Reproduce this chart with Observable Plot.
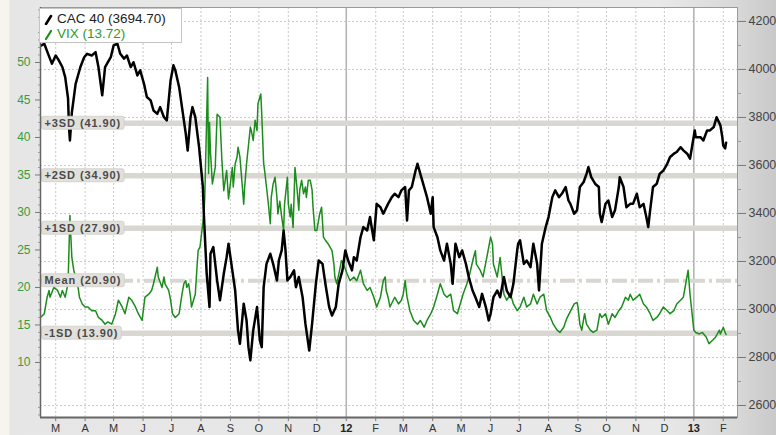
<!DOCTYPE html>
<html><head><meta charset="utf-8">
<script src="https://cdn.jsdelivr.net/npm/d3@7"></script>
<script src="https://cdn.jsdelivr.net/npm/@observablehq/plot@0.6"></script>
<style>
body{margin:0;background:#e8e8e8;font-family:"Liberation Sans",Arial,sans-serif;}
#wrap{position:relative;width:776px;height:435px;overflow:hidden;
 background:linear-gradient(90deg,#f7f4f0 0,#f7f4f0 9px,#e6e6e6 10px,#e9e9e9 85%,#d8d8d8 95%,#c9c9c9 100%);}
#legend{position:absolute;left:39px;top:8px;width:143px;height:35px;background:#fff;border:1px solid #c4c4c4;box-sizing:border-box;font-size:13.5px;line-height:15px;padding:2px 0 0 4px;white-space:nowrap}
#legend .row{display:flex;align-items:center;height:15px}
#legend svg{margin-right:3px}
</style></head>
<body>
<div id="wrap"><div id="chart"></div>
<div id="legend">
 <div class="row" style="color:#222"><svg width="10" height="12"><line x1="2" y1="11" x2="7" y2="3" stroke="#000" stroke-width="2.6" stroke-linecap="round"/></svg>CAC 40 (3694.70)</div>
 <div class="row" style="color:#2e9a2e"><svg width="10" height="12"><line x1="2" y1="11" x2="7" y2="3" stroke="#1c8c1c" stroke-width="2.2" stroke-linecap="round"/></svg>VIX (13.72)</div>
</div>
</div>
<script>
const cacSeries = [["2011-02-14",4100],["2011-02-17",4107],["2011-02-21",4065],["2011-02-25",4024],["2011-03-01",4058],["2011-03-04",4040],["2011-03-08",4010],["2011-03-11",3968],["2011-03-14",3880],["2011-03-15",3760],["2011-03-16",3704],["2011-03-18",3820],["2011-03-22",3940],["2011-03-27",4010],["2011-03-31",4051],["2011-04-03",4065],["2011-04-08",4058],["2011-04-12",4072],["2011-04-15",4010],["2011-04-19",3892],["2011-04-22",4010],["2011-04-28",4051],["2011-05-01",4100],["2011-05-05",4107],["2011-05-08",4065],["2011-05-12",4045],["2011-05-15",4058],["2011-05-19",4010],["2011-05-22",4030],["2011-05-26",3975],["2011-05-29",3996],["2011-06-02",3940],["2011-06-05",3885],["2011-06-09",3871],["2011-06-12",3829],["2011-06-16",3815],["2011-06-19",3843],["2011-06-23",3801],["2011-06-26",3788],["2011-06-30",3954],["2011-07-03",4017],["2011-07-05",3996],["2011-07-09",3926],["2011-07-12",3843],["2011-07-16",3732],["2011-07-18",3662],["2011-07-21",3801],["2011-07-23",3843],["2011-07-26",3801],["2011-07-30",3676],["2011-08-01",3593],["2011-08-03",3510],["2011-08-04",3399],["2011-08-05",3315],["2011-08-06",3232],["2011-08-07",3149],["2011-08-10",3010],["2011-08-11",3232],["2011-08-14",3260],["2011-08-18",3121],["2011-08-21",3038],["2011-08-25",3149],["2011-08-28",3218],["2011-08-30",3274],["2011-09-03",3163],["2011-09-06",3079],["2011-09-09",2913],["2011-09-11",2857],["2011-09-15",3024],["2011-09-18",2954],["2011-09-20",2843],["2011-09-22",2788],["2011-09-25",2913],["2011-09-29",3010],["2011-10-02",2871],["2011-10-04",2843],["2011-10-06",3093],["2011-10-09",3190],["2011-10-13",3232],["2011-10-16",3190],["2011-10-20",3121],["2011-10-22",3204],["2011-10-25",3246],["2011-10-27",3329],["2011-10-29",3246],["2011-10-31",3121],["2011-11-03",3135],["2011-11-07",3163],["2011-11-09",3093],["2011-11-12",3135],["2011-11-16",3051],["2011-11-19",2940],["2011-11-23",2829],["2011-11-26",2940],["2011-11-30",3107],["2011-12-03",3204],["2011-12-07",3190],["2011-12-10",3107],["2011-12-14",3010],["2011-12-17",2975],["2011-12-21",3010],["2011-12-24",3107],["2011-12-28",3163],["2011-12-31",3246],["2012-01-03",3204],["2012-01-07",3163],["2012-01-09",3218],["2012-01-12",3204],["2012-01-16",3301],["2012-01-19",3343],["2012-01-23",3329],["2012-01-26",3385],["2012-01-30",3288],["2012-02-02",3440],["2012-02-06",3426],["2012-02-09",3399],["2012-02-14",3440],["2012-02-18",3468],["2012-02-21",3482],["2012-02-25",3468],["2012-02-28",3496],["2012-03-03",3510],["2012-03-05",3371],["2012-03-07",3496],["2012-03-10",3510],["2012-03-14",3579],["2012-03-16",3607],["2012-03-19",3565],["2012-03-23",3510],["2012-03-26",3468],["2012-03-30",3399],["2012-04-01",3468],["2012-04-02",3343],["2012-04-06",3301],["2012-04-09",3246],["2012-04-13",3204],["2012-04-16",3274],["2012-04-20",3190],["2012-04-22",3107],["2012-04-25",3274],["2012-04-29",3218],["2012-05-02",3246],["2012-05-06",3190],["2012-05-09",3135],["2012-05-13",3079],["2012-05-16",3051],["2012-05-20",3010],["2012-05-23",3065],["2012-05-27",3010],["2012-05-30",2954],["2012-06-01",2982],["2012-06-04",3051],["2012-06-08",3079],["2012-06-11",3051],["2012-06-15",3135],["2012-06-18",3079],["2012-06-22",3051],["2012-06-25",3107],["2012-06-29",3246],["2012-06-30",3274],["2012-07-02",3288],["2012-07-06",3190],["2012-07-09",3204],["2012-07-13",3176],["2012-07-16",3274],["2012-07-20",3190],["2012-07-22",3079],["2012-07-25",3274],["2012-07-29",3343],["2012-08-01",3385],["2012-08-05",3468],["2012-08-08",3496],["2012-08-12",3468],["2012-08-15",3482],["2012-08-19",3510],["2012-08-22",3454],["2012-08-24",3440],["2012-08-28",3399],["2012-08-31",3413],["2012-09-03",3510],["2012-09-07",3531],["2012-09-10",3565],["2012-09-12",3593],["2012-09-15",3551],["2012-09-19",3524],["2012-09-23",3510],["2012-09-24",3399],["2012-09-26",3364],["2012-09-30",3440],["2012-10-03",3454],["2012-10-07",3385],["2012-10-10",3413],["2012-10-14",3510],["2012-10-15",3551],["2012-10-19",3510],["2012-10-22",3426],["2012-10-26",3440],["2012-10-29",3440],["2012-11-02",3482],["2012-11-05",3426],["2012-11-09",3440],["2012-11-12",3385],["2012-11-14",3343],["2012-11-16",3413],["2012-11-19",3510],["2012-11-23",3524],["2012-11-26",3565],["2012-11-30",3579],["2012-12-04",3607],["2012-12-07",3635],["2012-12-11",3649],["2012-12-14",3656],["2012-12-18",3676],["2012-12-21",3663],["2012-12-25",3649],["2012-12-28",3628],["2013-01-02",3746],["2013-01-03",3718],["2013-01-08",3718],["2013-01-11",3704],["2013-01-15",3746],["2013-01-18",3746],["2013-01-22",3760],["2013-01-25",3801],["2013-01-29",3767],["2013-01-31",3718],["2013-02-01",3683],["2013-02-03",3671],["2013-02-04",3695]];

const vixSeries = [["2011-02-13",16.0],["2011-02-17",16.5],["2011-02-20",18.7],["2011-02-22",19.6],["2011-02-23",18.7],["2011-02-27",20.0],["2011-03-03",19.6],["2011-03-06",18.7],["2011-03-08",19.6],["2011-03-11",18.7],["2011-03-14",20.5],["2011-03-16",29.6],["2011-03-17",26.7],["2011-03-18",24.0],["2011-03-20",22.3],["2011-03-24",20.5],["2011-03-26",18.7],["2011-03-29",17.8],["2011-04-01",17.4],["2011-04-04",17.4],["2011-04-08",16.9],["2011-04-12",16.9],["2011-04-15",16.0],["2011-04-19",15.6],["2011-04-22",15.1],["2011-04-25",15.4],["2011-04-29",15.1],["2011-05-03",16.5],["2011-05-06",18.3],["2011-05-10",17.4],["2011-05-13",16.5],["2011-05-17",18.7],["2011-05-20",18.3],["2011-05-24",17.4],["2011-05-27",16.5],["2011-05-31",15.6],["2011-06-03",18.7],["2011-06-07",19.1],["2011-06-10",19.6],["2011-06-12",20.5],["2011-06-16",22.7],["2011-06-17",21.4],["2011-06-21",20.0],["2011-06-23",21.4],["2011-06-24",20.5],["2011-06-28",19.6],["2011-06-30",18.3],["2011-07-02",16.5],["2011-07-05",16.0],["2011-07-09",16.5],["2011-07-12",19.1],["2011-07-14",20.5],["2011-07-16",20.9],["2011-07-17",20.0],["2011-07-19",20.5],["2011-07-21",18.7],["2011-07-22",17.4],["2011-07-26",19.1],["2011-07-28",23.1],["2011-07-29",24.9],["2011-07-31",25.4],["2011-08-02",27.6],["2011-08-04",29.8],["2011-08-05",32.0],["2011-08-08",48.0],["2011-08-09",35.2],["2011-08-10",42.0],["2011-08-11",38.0],["2011-08-13",33.8],["2011-08-16",36.0],["2011-08-18",43.1],["2011-08-21",42.7],["2011-08-23",37.0],["2011-08-25",32.9],["2011-08-28",35.6],["2011-08-30",31.8],["2011-09-03",36.0],["2011-09-04",33.4],["2011-09-06",36.5],["2011-09-08",37.4],["2011-09-09",38.7],["2011-09-11",37.4],["2011-09-13",34.3],["2011-09-15",31.1],["2011-09-16",33.4],["2011-09-18",36.5],["2011-09-22",41.4],["2011-09-23",40.9],["2011-09-25",39.6],["2011-09-27",42.3],["2011-09-29",40.9],["2011-09-30",44.5],["2011-10-03",45.8],["2011-10-04",43.1],["2011-10-06",36.5],["2011-10-07",35.6],["2011-10-09",33.4],["2011-10-11",31.1],["2011-10-13",28.5],["2011-10-14",32.0],["2011-10-16",33.8],["2011-10-18",34.7],["2011-10-20",32.0],["2011-10-21",29.8],["2011-10-23",31.5],["2011-10-25",29.4],["2011-10-27",27.6],["2011-10-28",31.1],["2011-10-31",34.7],["2011-11-01",31.1],["2011-11-03",29.4],["2011-11-04",31.1],["2011-11-06",28.0],["2011-11-08",36.0],["2011-11-10",33.4],["2011-11-12",30.3],["2011-11-13",33.0],["2011-11-15",34.3],["2011-11-17",32.5],["2011-11-19",33.4],["2011-11-20",32.0],["2011-11-22",34.3],["2011-11-24",34.3],["2011-11-26",33.0],["2011-11-27",30.7],["2011-11-29",27.6],["2011-12-01",27.6],["2011-12-04",29.8],["2011-12-06",30.7],["2011-12-08",26.7],["2011-12-10",26.3],["2011-12-13",25.8],["2011-12-17",24.9],["2011-12-19",23.1],["2011-12-20",21.4],["2011-12-22",20.5],["2011-12-25",22.3],["2011-12-27",23.6],["2011-12-29",23.1],["2012-01-02",21.8],["2012-01-05",20.9],["2012-01-09",21.4],["2012-01-12",20.9],["2012-01-16",22.3],["2012-01-19",20.5],["2012-01-23",19.6],["2012-01-26",20.0],["2012-01-30",18.7],["2012-02-02",17.4],["2012-02-06",18.7],["2012-02-09",20.9],["2012-02-11",21.4],["2012-02-12",19.6],["2012-02-14",18.7],["2012-02-16",17.4],["2012-02-21",18.7],["2012-02-25",17.8],["2012-02-28",18.3],["2012-03-01",19.1],["2012-03-03",20.9],["2012-03-05",18.7],["2012-03-08",16.9],["2012-03-12",15.6],["2012-03-16",15.1],["2012-03-19",15.6],["2012-03-23",14.7],["2012-03-26",15.6],["2012-03-30",16.5],["2012-04-02",17.4],["2012-04-06",19.1],["2012-04-09",20.5],["2012-04-13",19.1],["2012-04-16",18.7],["2012-04-20",19.1],["2012-04-23",16.9],["2012-04-27",16.5],["2012-04-30",17.8],["2012-05-03",19.1],["2012-05-07",20.5],["2012-05-10",21.8],["2012-05-14",24.0],["2012-05-16",24.9],["2012-05-17",23.1],["2012-05-21",22.3],["2012-05-24",21.4],["2012-05-28",24.0],["2012-06-01",26.7],["2012-06-03",25.8],["2012-06-04",23.1],["2012-06-08",21.4],["2012-06-11",24.0],["2012-06-15",19.1],["2012-06-18",18.3],["2012-06-22",19.1],["2012-06-25",17.8],["2012-06-29",16.9],["2012-07-02",17.4],["2012-07-06",18.7],["2012-07-09",17.4],["2012-07-13",17.8],["2012-07-16",19.1],["2012-07-20",17.8],["2012-07-23",18.7],["2012-07-27",19.1],["2012-07-30",16.9],["2012-08-03",16.0],["2012-08-06",15.1],["2012-08-10",14.3],["2012-08-13",14.0],["2012-08-17",14.7],["2012-08-20",15.8],["2012-08-24",16.8],["2012-08-28",17.8],["2012-08-31",18.0],["2012-09-01",17.4],["2012-09-03",15.1],["2012-09-05",14.3],["2012-09-08",16.5],["2012-09-10",15.1],["2012-09-14",14.3],["2012-09-17",14.0],["2012-09-21",14.3],["2012-09-24",16.5],["2012-09-26",16.0],["2012-09-30",16.5],["2012-10-03",15.1],["2012-10-07",16.5],["2012-10-10",16.0],["2012-10-14",16.9],["2012-10-17",17.4],["2012-10-21",18.7],["2012-10-24",18.3],["2012-10-26",19.1],["2012-10-29",18.3],["2012-11-02",18.7],["2012-11-05",19.1],["2012-11-09",17.8],["2012-11-12",17.4],["2012-11-16",16.5],["2012-11-19",15.6],["2012-11-23",16.0],["2012-11-26",16.5],["2012-11-30",17.4],["2012-12-04",16.9],["2012-12-07",16.5],["2012-12-11",16.9],["2012-12-14",17.8],["2012-12-18",18.3],["2012-12-21",18.7],["2012-12-26",22.3],["2012-12-28",19.1],["2013-01-01",14.3],["2013-01-03",14.0],["2013-01-07",13.8],["2013-01-10",14.0],["2013-01-14",13.4],["2013-01-17",12.5],["2013-01-21",13.0],["2013-01-24",13.4],["2013-01-28",14.3],["2013-01-29",13.8],["2013-02-01",14.7],["2013-02-03",14.0],["2013-02-04",13.72]];

const sdLevels = [41.90, 34.90, 27.90, 20.90, 13.90];
const sdLabels = ["+3SD (41.90)", "+2SD (34.90)", "+1SD (27.90)", "Mean (20.90)", "-1SD (13.90)"];
const vixTicks = [10, 15, 20, 25, 30, 35, 40, 45, 50];
const cacTicks = [2600, 2800, 3000, 3200, 3400, 3600, 3800, 4000, 4200];
const cacMinorTicks = [2700, 2900, 3100, 3300, 3500, 3700, 3900, 4100];
const monthTicks = ["2011-03-01","2011-04-01","2011-05-01","2011-06-01","2011-07-01","2011-08-01","2011-09-01","2011-10-01","2011-11-01","2011-12-01","2012-01-01","2012-02-01","2012-03-01","2012-04-01","2012-05-01","2012-06-01","2012-07-01","2012-08-01","2012-09-01","2012-10-01","2012-11-01","2012-12-01","2013-01-01","2013-02-01"];
const monthLabels = ["M","A","M","J","J","A","S","O","N","D","12","F","M","A","M","J","J","A","S","O","N","D","13","F"];

const parse = d3.utcParse("%Y-%m-%d");
const cac = cacSeries.map(([d, v]) => ({date: parse(d), value: v}));
const vix = vixSeries.map(([d, v]) => ({date: parse(d), value: v}));
const ticks = monthTicks.map((d, i) => ({date: parse(d), label: monthLabels[i], year: /^\d+$/.test(monthLabels[i])}));
const labelOf = new Map(ticks.map(t => [+t.date, t.label]));
const monthDates = ticks.filter(t => !t.year).map(t => t.date);
const yearDates = ticks.filter(t => t.year).map(t => t.date);

const xDomain = [parse("2011-02-13"), parse("2013-02-16")];
const vixDomain = [2.66, 57.33];
const cacDomain = [2550, 4258];
const toVix = d3.scaleLinear(cacDomain, vixDomain);
const vixMinor = d3.range(3, 58).filter(v => v % 5 !== 0);

const green = "#1c8c1c", greenText = "#3a9b3a", band = "#d9d7d1";
const solidLevels = sdLevels.filter((d, i) => sdLabels[i].indexOf("Mean") !== 0);
const meanLevels = sdLevels.filter((d, i) => sdLabels[i].indexOf("Mean") === 0);

const svg = Plot.plot({
  width: 776, height: 435,
  marginLeft: 40, marginRight: 39, marginTop: 7, marginBottom: 18,
  x: {type: "utc", domain: xDomain},
  y: {domain: vixDomain},
  style: {background: "transparent", fontFamily: "'Liberation Sans', Arial, sans-serif", fontSize: "12px", overflow: "hidden"},
  marks: [
    Plot.frame({fill: "white", stroke: null}),
    Plot.ruleX(monthDates, {stroke: "#c9c9c9", strokeDasharray: "2,2"}),
    Plot.ruleY(cacTicks, {y: d => toVix(d), stroke: "#c9c9c9", strokeDasharray: "2,2"}),
    Plot.ruleX(yearDates, {stroke: "#b4b4b4", strokeWidth: 1.6}),
    Plot.ruleY(solidLevels, {stroke: band, strokeWidth: 5.5}),
    Plot.ruleY(meanLevels, {stroke: band, strokeWidth: 4, strokeDasharray: "15,4,3,4"}),
    Plot.line(vix, {x: "date", y: "value", stroke: green, strokeWidth: 1.5}),
    Plot.line(cac, {x: "date", y: d => toVix(d.value), stroke: "#000", strokeWidth: 2.5}),
    Plot.text(sdLevels, {y: d => d, text: (d, i) => sdLabels[i], frameAnchor: "left", dx: 4, textAnchor: "start", fontWeight: "bold", fontSize: 11, fill: "#4a4a4a"}),
    Plot.frame({stroke: "#9a9a9a"}),
    Plot.ruleX([xDomain[0]], {stroke: "#666", strokeWidth: 1.5}),
    Plot.ruleY([vixDomain[0]], {stroke: "#666", strokeWidth: 2}),
    Plot.axisY(vixTicks, {anchor: "left", color: greenText, stroke: "#777", tickSize: 5, tickPadding: 5, fontSize: 12, label: null}),
    Plot.axisY(vixMinor, {anchor: "left", stroke: "#999", tickSize: 2, tickFormat: () => "", label: null}),
    Plot.axisY(cacTicks, {anchor: "right", y: toVix, tickFormat: d => String(d), color: "#444", stroke: "#777", tickSize: 8, tickPadding: 3, fontSize: 12.5, label: null}),
    Plot.axisY(cacMinorTicks, {anchor: "right", y: toVix, tickFormat: () => "", stroke: "#999", tickSize: 3, label: null}),
    Plot.axisX(monthDates, {tickFormat: d => labelOf.get(+d), color: "#333", stroke: "#777", tickSize: 4, tickPadding: 3, fontSize: 11, label: null}),
    Plot.axisX(yearDates, {tickFormat: d => labelOf.get(+d), color: "#222", stroke: "#777", tickSize: 4, tickPadding: 3, fontSize: 11, fontWeight: "bold", label: null})
  ]
});
document.getElementById("chart").appendChild(svg);

// rounded grey boxes behind the SD labels
const labelSet = new Set(sdLabels);
svg.querySelectorAll("text").forEach(t => {
  if (!labelSet.has(t.textContent)) return;
  t.style.letterSpacing = "0.9px";
  const b = t.getBBox();
  const r = document.createElementNS("http://www.w3.org/2000/svg", "rect");
  r.setAttribute("x", b.x - 3);
  r.setAttribute("y", b.y - 0.5);
  r.setAttribute("width", b.width + 6);
  r.setAttribute("height", b.height + 1);
  r.setAttribute("rx", 2);
  r.setAttribute("fill", "#e2e0db");
  r.setAttribute("stroke", "#cfcdc7");
  r.setAttribute("stroke-width", 0.8);
  const tr = t.getAttribute("transform");
  if (tr) r.setAttribute("transform", tr);
  t.parentNode.insertBefore(r, t);
});
</script>
</body></html>
